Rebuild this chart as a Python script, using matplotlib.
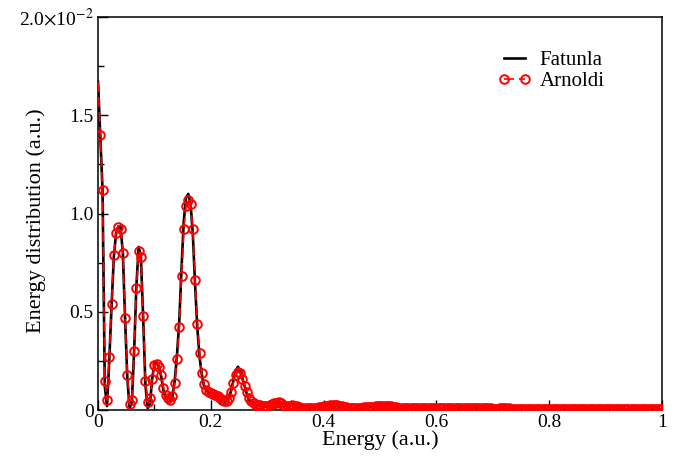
"""Energy distribution: Fatunla vs Arnoldi propagator."""
import matplotlib
matplotlib.use("Agg")
import matplotlib.pyplot as plt
import numpy as np

# ── data (energy distribution in units of 1e-2) ──────────────────────────
DE = 0.004
N_POINTS = 251
energy = np.arange(N_POINTS) * DE

# low-energy part, 0 .. 0.36 (91 points)
arnoldi_head = [
    1.67, 1.40, 1.12, 0.15, 0.05, 0.27, 0.54, 0.79, 0.90, 0.93,
    0.92, 0.80, 0.47, 0.18, 0.03, 0.05, 0.30, 0.62, 0.81, 0.78,
    0.48, 0.15, 0.04, 0.06, 0.16, 0.23, 0.235, 0.22, 0.18, 0.11,
    0.075, 0.06, 0.05, 0.07, 0.14, 0.26, 0.42, 0.68, 0.92, 1.04,
    1.07, 1.05, 0.92, 0.66, 0.44, 0.29, 0.19, 0.13, 0.10, 0.09,
    0.085, 0.08, 0.075, 0.07, 0.06, 0.05, 0.045, 0.045, 0.06, 0.09,
    0.14, 0.18, 0.195, 0.19, 0.16, 0.12, 0.09, 0.06, 0.045, 0.035,
    0.028, 0.024, 0.025, 0.02, 0.018, 0.02, 0.025, 0.03, 0.035, 0.038,
    0.04, 0.035, 0.028, 0.022, 0.02, 0.022, 0.025, 0.022, 0.018, 0.014,
    0.012,
]
fatunla_head = [
    1.67, 1.40, 1.12, 0.12, 0.02, 0.26, 0.53, 0.78, 0.90, 0.935,
    0.93, 0.80, 0.46, 0.16, 0.01, 0.04, 0.30, 0.63, 0.83, 0.78,
    0.47, 0.13, 0.01, 0.03, 0.16, 0.235, 0.245, 0.22, 0.17, 0.10,
    0.06, 0.04, 0.04, 0.07, 0.15, 0.28, 0.45, 0.72, 0.96, 1.08,
    1.10, 1.05, 0.90, 0.64, 0.42, 0.27, 0.18, 0.12, 0.10, 0.09,
    0.085, 0.08, 0.075, 0.065, 0.055, 0.045, 0.04, 0.045, 0.06, 0.10,
    0.15, 0.20, 0.22, 0.20, 0.16, 0.12, 0.08, 0.05, 0.035, 0.03,
    0.025, 0.022, 0.022, 0.02, 0.018, 0.02, 0.025, 0.03, 0.036, 0.04,
    0.042, 0.035, 0.028, 0.022, 0.02, 0.022, 0.026, 0.022, 0.018, 0.014,
    0.012,
]
# high-energy tail, 0.364 .. 1.0 (160 points), same for both methods
tail = [
    0.010, 0.009, 0.008, 0.008, 0.009, 0.010, 0.012, 0.014, 0.016, 0.018,
    0.020, 0.022, 0.024, 0.025, 0.025, 0.024, 0.022, 0.019, 0.016, 0.013,
    0.011, 0.010, 0.009, 0.009, 0.010, 0.011, 0.012, 0.013, 0.014, 0.015,
    0.016, 0.017, 0.018, 0.019, 0.020, 0.021, 0.021, 0.020, 0.019, 0.018,
    0.016, 0.014, 0.012, 0.011, 0.010, 0.009, 0.008, 0.008, 0.008, 0.009,
    0.009, 0.010, 0.010, 0.011, 0.011, 0.011, 0.010, 0.010, 0.009, 0.009,
    0.008, 0.008, 0.008, 0.008, 0.009, 0.009, 0.010, 0.010, 0.010, 0.010,
    0.009, 0.009, 0.008, 0.008, 0.008, 0.008, 0.008, 0.009, 0.009, 0.009,
    0.009, 0.008, 0.008, 0.008, 0.007, 0.007, 0.007, 0.008, 0.008, 0.008,
    0.008, 0.008, 0.007, 0.007, 0.007, 0.007, 0.007, 0.007, 0.007, 0.007,
    0.007, 0.007, 0.006, 0.006, 0.006, 0.006, 0.006, 0.006, 0.006, 0.006,
    0.006, 0.006, 0.006, 0.006, 0.005, 0.005, 0.005, 0.005, 0.005, 0.005,
    0.005, 0.005, 0.005, 0.005, 0.005, 0.005, 0.005, 0.005, 0.005, 0.005,
    0.005, 0.005, 0.005, 0.005, 0.005, 0.004, 0.004, 0.004, 0.004, 0.004,
    0.004, 0.004, 0.004, 0.004, 0.004, 0.004, 0.004, 0.004, 0.004, 0.004,
    0.004, 0.004, 0.004, 0.004, 0.004, 0.004, 0.004, 0.004, 0.004, 0.004,
]

arnoldi = np.array(arnoldi_head + tail)
fatunla = np.array(fatunla_head + tail)

X_TICKS = [0, 0.2, 0.4, 0.6, 0.8, 1.0]
X_TICK_LABELS = ["0", "0.2", "0.4", "0.6", "0.8", "1"]
Y_TICKS = [0, 0.5, 1.0, 1.5, 2.0]
Y_TICK_LABELS = ["0", "0.5", "1.0", "1.5", r"2.0$\times$10$^{-2}$"]

# ── style ─────────────────────────────────────────────────────────────────
plt.rcParams["font.family"] = ["Liberation Serif", "DejaVu Serif"]
plt.rcParams["mathtext.fontset"] = "stix"
FS = 14


def main() -> None:
    fig = plt.figure(figsize=(6.77, 4.61), dpi=100)
    ax = fig.add_axes([0.1448, 0.1106, 0.978 - 0.1448, 0.963 - 0.1106])

    ax.plot(energy, fatunla, "-", color="black", linewidth=1.9,
            label="Fatunla", zorder=2)
    # the E=0 point carries no visible marker in the original
    ax.plot(energy, arnoldi, "--", color="red", linewidth=1.2,
            dashes=(6, 3), marker="o", markersize=6.2,
            markevery=slice(1, None),
            markerfacecolor="none", markeredgecolor="red",
            markeredgewidth=1.4, label="Arnoldi", zorder=3)

    ax.set_xlim(0, 1)
    ax.set_ylim(0, 2.0)
    ax.set_xticks(X_TICKS)
    ax.set_xticklabels(X_TICK_LABELS, fontsize=FS)
    ax.set_yticks(Y_TICKS)
    ax.set_yticklabels(Y_TICK_LABELS, fontsize=FS)
    ax.set_xticks(np.arange(0.1, 1.0, 0.2), minor=True)
    ax.set_yticks(np.arange(0.25, 2.0, 0.5), minor=True)
    ax.tick_params(which="both", direction="in", top=False, right=False,
                   width=1.0, pad=3)
    ax.tick_params(which="major", length=7)
    ax.tick_params(which="minor", length=4)
    for sp in ax.spines.values():
        sp.set_linewidth(1.1)

    ax.set_xlabel("Energy (a.u.)", fontsize=FS + 2, labelpad=-1)
    ax.set_ylabel("Energy distribution (a.u.)", fontsize=FS + 2)
    ax.yaxis.set_label_coords(-0.092, 0.483)

    ax.legend(loc="upper right", bbox_to_anchor=(0.905, 0.925),
              frameon=False, fontsize=FS + 1, numpoints=2,
              handlelength=1.6, handletextpad=0.4, labelspacing=0.05,
              borderaxespad=0.0, borderpad=0.2)

    fig.savefig("out.png", dpi=100)
    plt.close(fig)


if __name__ == "__main__":
    main()
